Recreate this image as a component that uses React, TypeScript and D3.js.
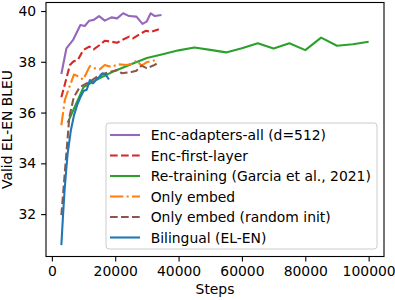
import React, { useEffect, useRef } from 'react';
import * as d3 from 'd3';

// Enc-adapters-all (d=512)
const adapterSteps = [3000, 4600, 6700, 9000, 10400, 11800, 13200, 14900, 16700, 18800, 20600, 22500, 24400, 26700, 28600, 29900, 31200, 32500, 34600];
const adapterBleu = [37.52, 38.53, 38.86, 39.45, 39.41, 39.62, 39.65, 39.8, 39.62, 39.75, 39.71, 39.91, 39.8, 39.78, 39.49, 39.58, 39.91, 39.8, 39.84];

// Enc-first-layer
const firstLayerSteps = [3000, 5700, 6700, 8300, 9900, 11800, 13200, 15100, 16700, 18800, 20600, 22500, 24400, 25600, 27800, 29600, 31400, 33800];
const firstLayerBleu = [36.6, 37.87, 38.0, 38.1, 38.46, 38.6, 38.49, 38.66, 38.83, 38.79, 38.75, 38.88, 38.99, 38.92, 39.09, 39.22, 39.18, 39.28];

// Re-training (Garcia et al., 2021)
const retrainSteps = [5000, 10000, 15000, 20000, 25000, 30000, 35000, 40000, 45000, 50000, 55000, 60000, 65000, 70000, 75000, 80000, 85000, 90000, 95000, 100000];
const retrainBleu = [35.6, 37.0, 37.35, 37.65, 37.9, 38.15, 38.3, 38.45, 38.56, 38.47, 38.37, 38.53, 38.73, 38.52, 38.73, 38.46, 38.95, 38.63, 38.69, 38.79];

// Only embed
const embedSteps = [3000, 4100, 5500, 7000, 8600, 9900, 12000, 13600, 15100, 16700, 18800, 20900, 23600, 25700, 26700, 28300, 29900, 32000, 33500];
const embedBleu = [35.5, 36.5, 37.0, 37.5, 37.41, 37.3, 37.83, 37.74, 37.7, 37.87, 37.8, 37.9, 37.87, 37.94, 38.05, 37.85, 37.98, 38.04, 38.1];

// Only embed (random init)
const randomSteps = [3000, 5500, 6900, 8800, 12000, 15100, 18300, 20900, 22000, 25100, 26700, 28300, 29900, 32000, 33500];
const randomBleu = [31.96, 35.8, 36.6, 37.0, 37.22, 37.48, 37.6, 37.68, 37.55, 37.6, 37.65, 37.85, 37.75, 37.85, 37.95];

// Bilingual (EL-EN)
const bilingualSteps = [3000, 3500, 4000, 4500, 5000, 6000, 7000, 8000, 9000, 10000, 11000, 12000, 13000, 14000, 15000, 16000, 17000, 18000];
const bilingualBleu = [30.78, 31.9, 32.9, 33.7, 34.4, 35.3, 35.9, 36.3, 36.6, 36.85, 36.9, 37.28, 37.15, 37.3, 37.41, 37.55, 37.5, 37.3];

const xTicks = [0, 20000, 40000, 60000, 80000, 100000];
const yTicks = [32, 34, 36, 38, 40];

const SERIES = [
  { label: 'Enc-adapters-all (d=512)', steps: adapterSteps, values: adapterBleu, color: '#9467bd', dash: '' },
  { label: 'Enc-first-layer', steps: firstLayerSteps, values: firstLayerBleu, color: '#d62728', dash: '7.7,3.3' },
  { label: 'Re-training (Garcia et al., 2021)', steps: retrainSteps, values: retrainBleu, color: '#2ca02c', dash: '' },
  { label: 'Only embed', steps: embedSteps, values: embedBleu, color: '#ff7f0e', dash: '13.3,3.3,2.1,3.3' },
  { label: 'Only embed (random init)', steps: randomSteps, values: randomBleu, color: '#8c564b', dash: '7.7,3.3' },
  { label: 'Bilingual (EL-EN)', steps: bilingualSteps, values: bilingualBleu, color: '#1f77b4', dash: '' },
];

const W = 395;
const H = 300;
const PLOT = { left: 46, right: 384, top: 2.5, bottom: 256.5 };
const FONT = 'DejaVu Sans, sans-serif';
const FS = '13.9px';

const App: React.FC = () => {
  const svgRef = useRef<SVGSVGElement>(null);

  useEffect(() => {
    const svg = d3.select(svgRef.current);
    svg.selectAll('*').remove();

    const x = d3.scaleLinear().domain([-1850, 104850]).range([PLOT.left, PLOT.right]);
    const y = d3.scaleLinear().domain([30.33, 40.335]).range([PLOT.bottom, PLOT.top]);

    // lines
    const line = d3.line<[number, number]>()
      .x(d => x(d[0]))
      .y(d => y(d[1]));

    const plotG = svg.append('g');
    SERIES.forEach(s => {
      plotG.append('path')
        .datum(s.steps.map((st, i) => [st, s.values[i]] as [number, number]))
        .attr('fill', 'none')
        .attr('stroke', s.color)
        .attr('stroke-width', 2.08)
        .attr('stroke-dasharray', s.dash || null)
        .attr('stroke-linejoin', 'round')
        .attr('d', line);
    });

    // Axes
    const xAxis = d3.axisBottom(x).tickValues(xTicks).tickFormat(d3.format('d')).tickSize(4.9).tickPadding(4.9);
    const gx = svg.append('g').attr('transform', `translate(0,${PLOT.bottom})`).call(xAxis);
    const yAxis = d3.axisLeft(y).tickValues(yTicks).tickFormat(d3.format('d')).tickSize(4.9).tickPadding(4.9);
    const gy = svg.append('g').attr('transform', `translate(${PLOT.left},0)`).call(yAxis);
    [gx, gy].forEach(g => {
      g.select('.domain').remove();
      g.selectAll('line').attr('stroke', '#000').attr('stroke-width', 1.1);
      g.selectAll('text').style('font-family', FONT).style('font-size', FS).attr('fill', '#000');
    });

    // spines
    svg.append('rect')
      .attr('x', PLOT.left)
      .attr('y', PLOT.top)
      .attr('width', PLOT.right - PLOT.left)
      .attr('height', PLOT.bottom - PLOT.top)
      .attr('fill', 'none')
      .attr('stroke', '#000')
      .attr('stroke-width', 1.1);

    svg.append('text')
      .attr('x', (PLOT.left + PLOT.right) / 2)
      .attr('y', 294)
      .attr('text-anchor', 'middle')
      .style('font-family', FONT)
      .style('font-size', FS)
      .text('Steps');

    svg.append('text')
      .attr('transform', `translate(12,${(PLOT.top + PLOT.bottom) / 2}) rotate(-90)`)
      .attr('text-anchor', 'middle')
      .style('font-family', FONT)
      .style('font-size', FS)
      .text('Valid EL-EN BLEU');

    // Legend
    const legend = svg.append('g');
    legend.append('rect')
      .attr('x', 106)
      .attr('y', 123)
      .attr('width', 271)
      .attr('height', 126)
      .attr('rx', 3)
      .attr('fill', 'white')
      .attr('fill-opacity', 0.8)
      .attr('stroke', '#cccccc')
      .attr('stroke-width', 1);

    const items = legend.selectAll('.item')
      .data(SERIES)
      .enter().append('g')
      .attr('class', 'item')
      .attr('transform', (d, i) => `translate(110,${135 + i * 20.5})`);

    items.append('line')
      .attr('x1', 0)
      .attr('x2', 30)
      .attr('stroke', d => d.color)
      .attr('stroke-width', 2.08)
      .attr('stroke-dasharray', d => d.dash || null);

    items.append('text')
      .attr('x', 40.7)
      .attr('dy', '0.36em')
      .style('font-family', FONT)
      .style('font-size', FS)
      .text(d => d.label);
  }, []);

  return (
    <svg ref={svgRef} width={W} height={H} style={{ position: 'absolute', left: 0, top: 0, background: 'white' }}></svg>
  );
};

export default App;
